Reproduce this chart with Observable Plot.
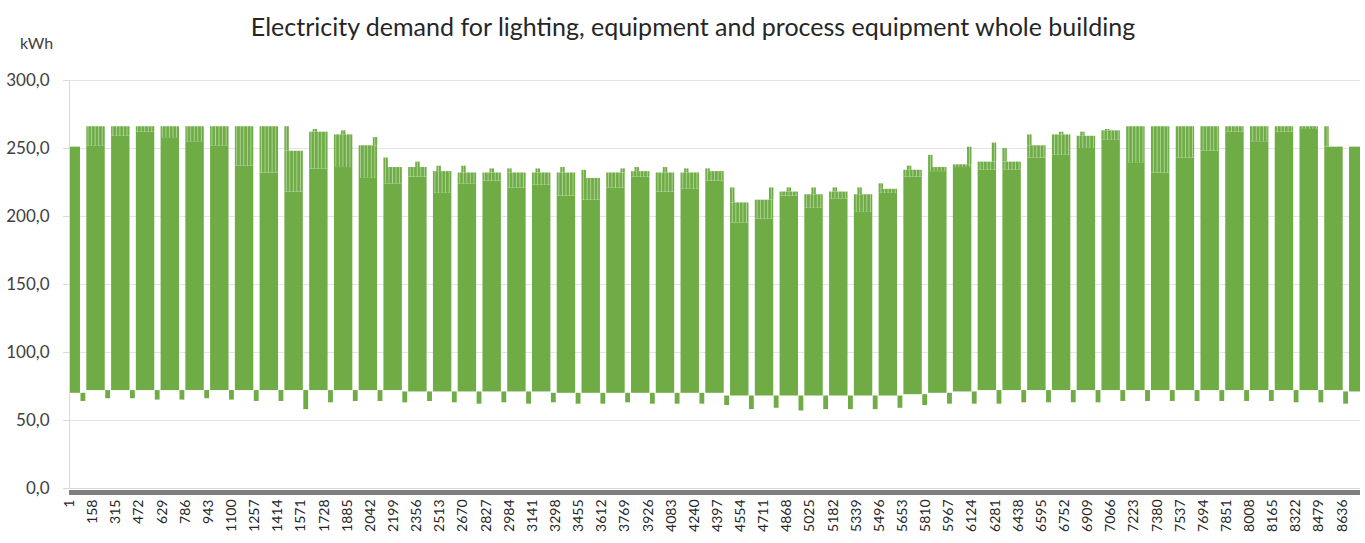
<!DOCTYPE html>
<html><head><meta charset="utf-8">
<script src="https://cdn.jsdelivr.net/npm/d3@7"></script>
<script src="https://cdn.jsdelivr.net/npm/@observablehq/plot@0.6"></script>
<style>
body{margin:0;background:#fff;}
#chart{position:relative;width:1365px;height:543px;font-family:Lato,"Open Sans",sans-serif;color:#404040;}
#title{position:absolute;top:11px;left:0;width:1386px;text-align:center;font-size:25px;color:#262626;white-space:nowrap;}
#unit{position:absolute;top:33px;left:20px;font-size:16px;color:#404040;}
</style></head><body>
<div id="chart"><div id="title"></div><div id="unit"></div></div>
<script>
const title = "Electricity demand for lighting, equipment and process equipment whole building";
const unitLabel = "kWh";
const yTicks = [0, 50, 100, 150, 200, 250, 300];
const xTickLabels = [1,158,315,472,629,786,943,1100,1257,1414,1571,1728,1885,2042,2199,2356,2513,2670,2827,2984,3141,3298,3455,3612,3769,3926,4083,4240,4397,4554,4711,4868,5025,5182,5339,5496,5653,5810,5967,6124,6281,6438,6595,6752,6909,7066,7223,7380,7537,7694,7851,8008,8165,8322,8479,8636];
const hoursInYear = 8760;
// working-week blocks (hour of year): first block start, week length, block length
const firstBlockStart = -50, weekLength = 168, blockLength = 125;
// per working week: max peak, typical daily top, lowest daily top, day of the max peak, night base
const weekPeak  = [251,266,266,266,266,266,266,266,266,266,264,263,258,243,240,237,237,235,235,235,236,234,235,236,236,235,235,221,221,221,221,221,221,224,237,245,251,254,250,260,262,262,264,266,266,266,266,266,266,266,266,266,251];
const weekLevel = [251,266,266,266,266,266,266,266,266,248,262,260,252,236,236,233,232,232,232,232,232,228,232,233,232,232,233,210,212,218,216,218,216,220,234,236,238,240,240,252,260,259,263,266,266,266,266,266,266,266,266,251,251];
const weekLow   = [251,252,259,262,258,255,252,237,232,218,235,236,228,224,229,217,224,226,221,223,215,212,221,229,218,220,226,195,198,215,206,213,203,217,229,233,236,234,234,243,245,250,256,239,232,243,248,262,255,262,264,251,251];
const weekPeakDay=[null,null,null,null,null,null,null,null,null,0,1,2,4,0,2,1,1,2,0,1,1,0,4,1,2,1,0,0,4,2,2,1,1,0,1,0,4,4,0,0,2,1,1,null,null,null,null,null,null,null,null,0,null];
const weekBase  = [70,72,72,72,72,72,72,72,72,72,72,72,72,72,71,71,71,71,71,71,70,70,70,70,70,70,70,68,68,68,68,68,68,68,69,70,71,72,72,72,72,72,72,72,72,72,72,72,72,72,72,72,71];
// weekend minimum after each working week
const weekendLow = [64,66,66,65,65,66,65,64,64,58,63,64,64,63,64,63,62,63,62,63,62,62,63,62,62,62,61,58,59,57,58,58,58,59,61,62,62,62,63,63,63,63,64,64,64,64,64,64,64,63,63,62,62];

const green = "#6fac46";
const clampX = v => Math.max(0.5, Math.min(hoursInYear + 0.5, v));
const weeks = weekPeak.map((p, i) => {
  const s = firstBlockStart + weekLength * i;
  return {start: clampX(s), end: clampX(s + blockLength), rawStart: s, peak: p, level: weekLevel[i], low: weekLow[i], day: weekPeakDay[i], base: weekBase[i]};
}).filter(d => d.end > d.start);
const spikes = weeks.filter(d => d.day != null && d.peak > d.level).map(d => ({
  x1: clampX(d.rawStart + d.day * 24), x2: clampX(d.rawStart + d.day * 24 + 30), y1: d.level, y2: d.peak
}));
const weekends = weeks.slice(0, -1).map((d, i) => ({
  x1: d.end, x2: weeks[i + 1].start, y1: weekendLow[i], y2: Math.min(d.base, weeks[i + 1].base)
}));

const fmt = d => d3.format(".1f")(d).replace(".", ",");

const plot = Plot.plot({
  width: 1365, height: 543,
  marginLeft: 69, marginRight: 5, marginTop: 80, marginBottom: 55,
  style: {fontFamily: "Lato, 'Open Sans', sans-serif", background: "#fff", color: "#404040"},
  x: {domain: [0.5, hoursInYear + 0.5]},
  y: {domain: [0, 300]},
  marks: [
    Plot.ruleY(yTicks.filter(d => d > 0), {stroke: "#e4e4e4", strokeWidth: 1}),
    Plot.rect(weeks, {x1: "start", x2: "end", y1: "base", y2: "low", fill: green}),
    Plot.rect(weeks, {x1: "start", x2: "end", y1: "low", y2: "level", fill: "url(#dayStripes)"}),
    Plot.rect(spikes, {x1: "x1", x2: "x2", y1: "y1", y2: "y2", fill: "url(#dayStripes)"}),
    Plot.rect(weekends, {x1: "x1", x2: "x2", y1: "y1", y2: "y2", fill: green, insetLeft: 0.5, insetRight: 1}),
    Plot.ruleX([0.5], {y1: 0, y2: 300, stroke: "#d9d9d9"}),
    Plot.ruleY([0], {stroke: "#d9d9d9", strokeWidth: 1}),
    Plot.ruleY([0], {stroke: "#7f7f7f", strokeWidth: 5, dy: 4}),
    Plot.axisY(yTicks, {tickFormat: fmt, tickSize: 6, tickPadding: 14, stroke: "#d9d9d9", fill: "#404040", fontSize: 17, label: null}),
    Plot.axisX(xTickLabels, {tickFormat: d => String(d), tickSize: 0, tickPadding: 11, tickRotate: -90, fill: "#262626", fontSize: 14, label: null})
  ]
});

const ns = "http://www.w3.org/2000/svg";
const defs = document.createElementNS(ns, "defs");
defs.innerHTML = '<pattern id="dayStripes" patternUnits="userSpaceOnUse" width="3.54" height="20"><rect width="3.54" height="20" fill="' + green + '"/><rect x="2.6" width="0.9" height="20" fill="#b3d69c"/></pattern>';
plot.insertBefore(defs, plot.firstChild);

document.getElementById("chart").appendChild(plot);
document.getElementById("title").textContent = title;
document.getElementById("unit").textContent = unitLabel;
</script>
</body></html>
